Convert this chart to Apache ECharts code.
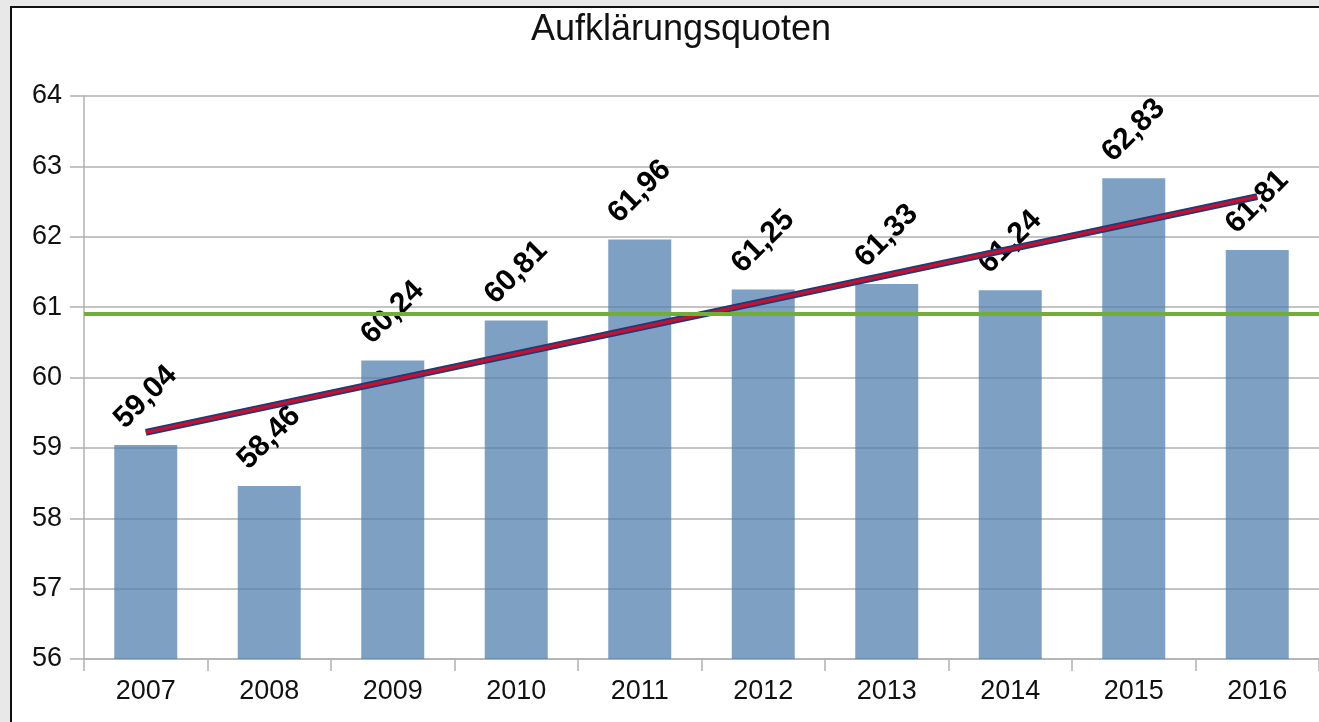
<!DOCTYPE html>
<html>
<head>
<meta charset="utf-8">
<title>Aufklärungsquoten</title>
<script src="https://cdn.jsdelivr.net/npm/echarts@6/dist/echarts.min.js"></script>
<style>
  html, body { margin: 0; padding: 0; background: #e8e8e8; overflow: hidden; }
  #frame { position: absolute; left: 10px; top: 6px; width: 1340px; height: 760px;
           background: #fff; border: 2px solid #111; }
  #main { position: absolute; left: 0; top: 0; width: 1319px; height: 722px; }
</style>
</head>
<body>
<div id="frame"></div>
<div id="main"></div>
<script>
// Jahre und Aufklärungsquoten (%)
var years = ['2007', '2008', '2009', '2010', '2011', '2012', '2013', '2014', '2015', '2016'];
var rates = [59.04, 58.46, 60.24, 60.81, 61.96, 61.25, 61.33, 61.24, 62.83, 61.81];
// Mittelwert (grüne Linie) und Trendlinie
var meanRate = 60.9;
var trendPoints = [['2007', 59.22], ['2016', 62.57]];
var yTicks = [56, 57, 58, 59, 60, 61, 62, 63, 64];

var font = '"Liberation Sans", Arial, sans-serif';
var gridGray = '#b0b0b0';

var myChart = echarts.init(document.getElementById('main'), null, { renderer: 'canvas' });

myChart.setOption({
  animation: false,
  title: {
    text: 'Aufklärungsquoten',
    left: 676,
    top: 7,
    textAlign: 'center',
    textStyle: { fontFamily: font, fontSize: 36, fontWeight: 'normal', color: '#111' }
  },
  grid: { left: 84, top: 96, width: 1243, height: 563 },
  xAxis: {
    type: 'category',
    data: years,
    axisLine: { show: true, lineStyle: { color: gridGray, width: 1.5 } },
    axisTick: { show: true, length: 12, lineStyle: { color: gridGray, width: 1.5 } },
    axisLabel: { fontFamily: font, fontSize: 27, color: '#111', margin: 19 }
  },
  yAxis: {
    type: 'value',
    min: yTicks[0],
    max: yTicks[yTicks.length - 1],
    interval: 1,
    axisLine: { show: true, lineStyle: { color: gridGray, width: 1.5 } },
    axisTick: { show: true, length: 14, lineStyle: { color: gridGray, width: 1.5 } },
    axisLabel: { fontFamily: font, fontSize: 27, color: '#111', margin: 22 },
    splitLine: { show: true, lineStyle: { color: gridGray, width: 1.5 } }
  },
  series: [
    {
      type: 'bar',
      data: rates,
      barWidth: '51%',
      itemStyle: { color: 'rgba(82,128,175,0.75)' },
      label: {
        show: true,
        position: 'top',
        distance: 48,
        rotate: 45,
        align: 'center',
        verticalAlign: 'middle',
        fontFamily: font,
        fontSize: 30,
        fontWeight: 'bold',
        color: '#000',
        formatter: function (p) { return p.value.toFixed(2).replace('.', ','); }
      },
      markLine: {
        silent: true,
        symbol: 'none',
        label: { show: false },
        lineStyle: { color: '#72ad3a', width: 4, type: 'solid' },
        data: [{ yAxis: meanRate }]
      },
      z: 2
    },
    {
      type: 'line',
      data: trendPoints,
      symbol: 'none',
      lineStyle: { color: '#1e3a78', width: 7 },
      z: 3
    },
    {
      type: 'line',
      data: trendPoints,
      symbol: 'none',
      lineStyle: { color: '#c8102e', width: 3.5 },
      z: 4
    }
  ]
});
</script>
</body>
</html>
